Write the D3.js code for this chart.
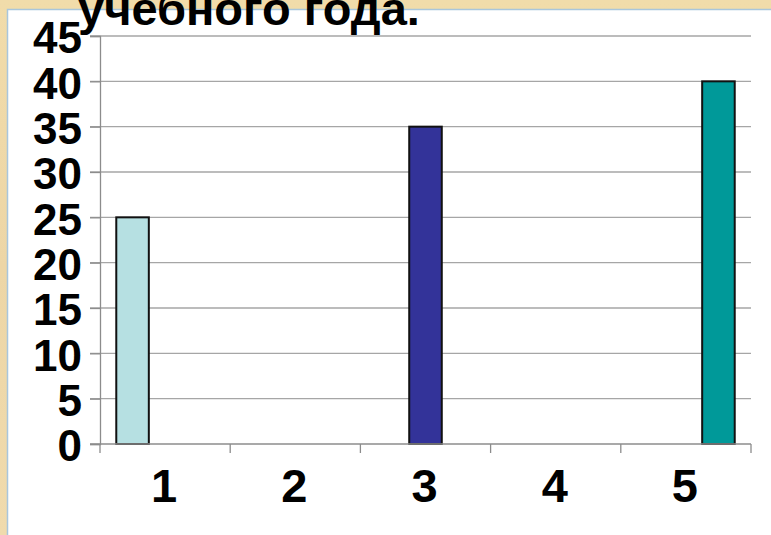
<!DOCTYPE html>
<html>
<head>
<meta charset="utf-8">
<script src="https://cdn.jsdelivr.net/npm/d3@7"></script>
<style>
html,body{margin:0;padding:0;}
body{width:771px;height:535px;overflow:hidden;background:#efd9a9;}
</style>
</head>
<body>
<svg id="chart" width="771" height="535"></svg>
<script>
const categories = ["1", "2", "3", "4", "5"];
const seriesNames = ["s1", "s2", "s3"];
const seriesColors = ["#b6e0e2", "#333399", "#009999"];
const seriesValues = [
  [25, null, null, null, null],
  [null, null, 35, null, null],
  [null, null, null, null, 40]
];
const yTicks = [0, 5, 10, 15, 20, 25, 30, 35, 40, 45];
const titleText = "учебного года.";

const svg = d3.select("#chart");

// parchment background
const defs = svg.append("defs");
const grad = defs.append("linearGradient").attr("id", "bg").attr("x1", 0).attr("y1", 0).attr("x2", 0).attr("y2", 1);
grad.append("stop").attr("offset", "0%").attr("stop-color", "#f1dcaa");
grad.append("stop").attr("offset", "50%").attr("stop-color", "#edd6a6");
grad.append("stop").attr("offset", "100%").attr("stop-color", "#f0dbad");
svg.append("rect").attr("x", 0).attr("y", 0).attr("width", 771).attr("height", 535).attr("fill", "url(#bg)");

// white panel
svg.append("rect").attr("x", 7.5).attr("y", 9.5).attr("width", 770).attr("height", 530)
  .attr("fill", "#ffffff").attr("stroke", "#a9c6dc").attr("stroke-width", 1.5);

const plot = {left: 100, right: 751, top: 36, bottom: 444};

const x = d3.scaleBand().domain(categories).range([plot.left, plot.right]).paddingInner(0).paddingOuter(0);
const xs = d3.scaleBand().domain(seriesNames).range([0, x.bandwidth()]).paddingInner(0).paddingOuter(0.5);
const y = d3.scaleLinear().domain([0, 45]).range([plot.bottom, plot.top]);

// gridlines
svg.append("g").selectAll("line").data(yTicks.filter(d => d > 0)).join("line")
  .attr("x1", plot.left - 10).attr("x2", plot.right)
  .attr("y1", d => y(d)).attr("y2", d => y(d))
  .attr("stroke", "#a6a6a6").attr("stroke-width", 1.3);

// y axis
const yAxis = svg.append("g").attr("transform", `translate(${plot.left},0)`)
  .call(d3.axisLeft(y).tickValues(yTicks).tickSize(10).tickPadding(8).tickFormat(d3.format("d")));
yAxis.select(".domain").attr("stroke", "#8c8c8c").attr("stroke-width", 1.3);
yAxis.selectAll(".tick line").attr("stroke", "#8c8c8c").attr("stroke-width", 1.3);
yAxis.selectAll("text").attr("font-family", "Liberation Sans, Arial, sans-serif")
  .attr("font-weight", "bold").attr("font-size", 44).attr("fill", "#000").attr("x", -18).attr("dy", "0.38em");

// bars
const barData = [];
seriesValues.forEach((vals, si) => {
  vals.forEach((v, ci) => {
    if (v !== null) barData.push({series: seriesNames[si], cat: categories[ci], value: v, color: seriesColors[si]});
  });
});
svg.append("g").selectAll("rect").data(barData).join("rect")
  .attr("x", d => x(d.cat) + xs(d.series))
  .attr("width", xs.bandwidth())
  .attr("y", d => y(d.value))
  .attr("height", d => y(0) - y(d.value))
  .attr("fill", d => d.color)
  .attr("stroke", "#111").attr("stroke-width", 2);

// x axis
const xAxisG = svg.append("g").attr("transform", `translate(0,${plot.bottom})`);
xAxisG.append("line").attr("x1", plot.left - 10).attr("x2", plot.right).attr("y1", 0).attr("y2", 0)
  .attr("stroke", "#8c8c8c").attr("stroke-width", 1.5);
const xTickPos = categories.map(c => x(c)).concat([x(categories[categories.length - 1]) + x.bandwidth()]);
xAxisG.selectAll("line.t").data(xTickPos).join("line").attr("class", "t")
  .attr("x1", d => d).attr("x2", d => d).attr("y1", 0).attr("y2", 9)
  .attr("stroke", "#8c8c8c").attr("stroke-width", 1.3);
xAxisG.selectAll("text").data(categories).join("text")
  .attr("x", d => x(d) + x.bandwidth() / 2 - 1).attr("y", 58)
  .attr("text-anchor", "middle")
  .attr("font-family", "Liberation Sans, Arial, sans-serif")
  .attr("font-weight", "bold").attr("font-size", 47).attr("fill", "#000")
  .text(d => d);

// title (partially cut off at top, as in the reference)
svg.append("text").attr("x", 78).attr("y", 25)
  .attr("font-family", "Liberation Sans, Arial, sans-serif")
  .attr("font-weight", "bold").attr("font-size", 47).attr("fill", "#000")
  .text(titleText);
</script>
</body>
</html>
